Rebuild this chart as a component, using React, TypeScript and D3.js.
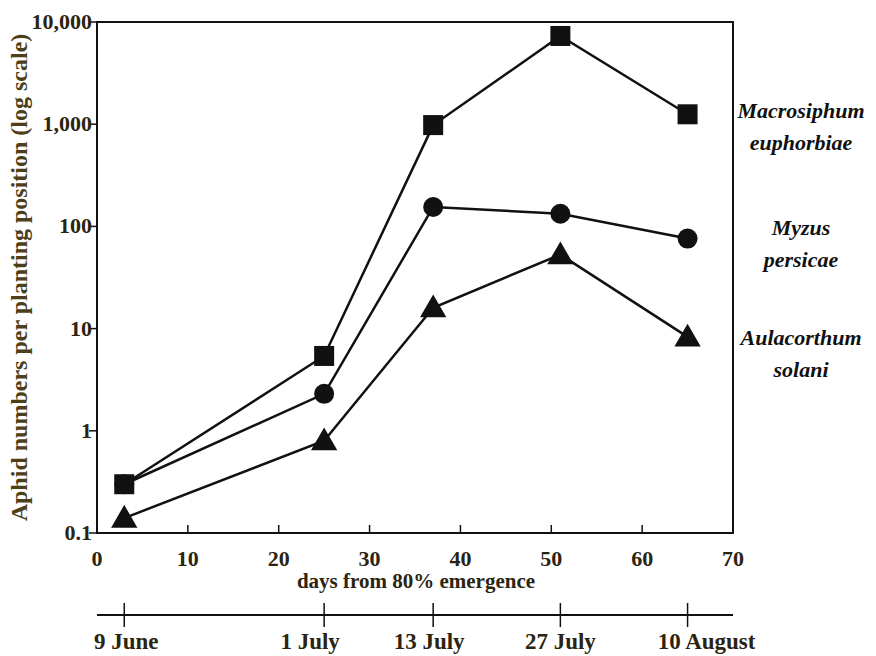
import React from "react";
import * as d3 from "d3";

// Sampling days (days from 80% emergence)
const days = [3, 25, 37, 51, 65];
const dateLabels = ["9 June", "1 July", "13 July", "27 July", "10 August"];

// Aphid counts per planting position
const macrosiphum = [0.3, 5.4, 980, 7300, 1250];
const myzus = [0.3, 2.3, 155, 133, 76];
const aulacorthum = [0.14, 0.8, 16, 53, 8.3];

const yTicks = [0.1, 1, 10, 100, 1000, 10000];
const xTicks = [0, 10, 20, 30, 40, 50, 60, 70];

const speciesLabels = [
  { lines: ["Macrosiphum", "euphorbiae"], y: 118 },
  { lines: ["Myzus", "persicae"], y: 235 },
  { lines: ["Aulacorthum", "solani"], y: 345 },
];

// horizontal nudges for the calendar labels, relative to their tick
const dateLabelShift = [2, -14, -4, 0, 19];

const W = 876;
const H = 656;
const left = 97;
const right = 733;
const top = 22;
const bottom = 533;
const timelineY = 615;
const font = "'Liberation Serif', 'Times New Roman', serif";
const ink = "#111";
const labelInk = "#2b2410";

export default function App() {
  const x = d3.scaleLinear().domain([0, 70]).range([left, right]);
  const y = d3.scaleLog().domain([0.1, 10000]).range([bottom, top]);
  const line = d3
    .line<number>()
    .x((_, i) => x(days[i]))
    .y((v) => y(v));
  const fmt = d3.format(",");

  const square = (cx: number, cy: number, k: string) => (
    <rect key={k} x={cx - 10} y={cy - 10} width={20} height={20} fill={ink} />
  );
  const circle = (cx: number, cy: number, k: string) => (
    <circle key={k} cx={cx} cy={cy} r={10} fill={ink} />
  );
  const triangle = (cx: number, cy: number, k: string) => (
    <path
      key={k}
      d={d3.symbol(d3.symbolTriangle, 300)() || ""}
      transform={`translate(${cx},${cy})`}
      fill={ink}
    />
  );

  return (
    <svg
      width={W}
      height={H}
      style={{ position: "absolute", left: 0, top: 0, background: "#fff" }}
    >
      {/* plot frame */}
      <rect
        x={left}
        y={top}
        width={right - left}
        height={bottom - top}
        fill="none"
        stroke={ink}
        strokeWidth={2}
      />

      {/* y axis ticks and labels */}
      {yTicks.map((t) => (
        <g key={t}>
          <line x1={left - 8} x2={left} y1={y(t)} y2={y(t)} stroke={ink} strokeWidth={1.5} />
          <text
            x={left - 5}
            y={y(t) + 7}
            textAnchor="end"
            fontFamily={font}
            fontWeight="bold"
            fontSize={22}
            fill={labelInk}
          >
            {t < 1 ? "0.1" : fmt(t)}
          </text>
        </g>
      ))}

      {/* x axis ticks and labels */}
      {xTicks.map((t) => (
        <g key={t}>
          <line x1={x(t)} x2={x(t)} y1={bottom} y2={bottom - 8} stroke={ink} strokeWidth={1.5} />
          <text
            x={x(t)}
            y={bottom + 33}
            textAnchor="middle"
            fontFamily={font}
            fontWeight="bold"
            fontSize={22}
            fill={labelInk}
          >
            {t}
          </text>
        </g>
      ))}
      <text
        x={416}
        y={588}
        textAnchor="middle"
        fontFamily={font}
        fontWeight="bold"
        fontSize={21}
        fill={labelInk}
      >
        days from 80% emergence
      </text>

      {/* y axis title */}
      <text
        transform={`translate(27,${(top + bottom) / 2}) rotate(-90)`}
        textAnchor="middle"
        fontFamily={font}
        fontWeight="bold"
        fontSize={24}
        fill="#4d3f1a"
      >
        Aphid numbers per planting position (log scale)
      </text>

      {/* calendar timeline */}
      <line x1={left} x2={right} y1={timelineY} y2={timelineY} stroke={ink} strokeWidth={2} />
      {days.map((d, i) => (
        <g key={d}>
          <line x1={x(d)} x2={x(d)} y1={timelineY - 12} y2={timelineY + 12} stroke={ink} strokeWidth={1.5} />
          <text
            x={x(d) + dateLabelShift[i]}
            y={649}
            textAnchor="middle"
            fontFamily={font}
            fontWeight="bold"
            fontSize={23}
            fill={labelInk}
          >
            {dateLabels[i]}
          </text>
        </g>
      ))}

      {/* series lines */}
      {[macrosiphum, myzus, aulacorthum].map((s, i) => (
        <path key={i} d={line(s) || ""} fill="none" stroke={ink} strokeWidth={2.5} />
      ))}

      {/* markers */}
      {aulacorthum.map((v, i) => triangle(x(days[i]), y(v) + 2, `t${i}`))}
      {myzus.map((v, i) => circle(x(days[i]), y(v), `c${i}`))}
      {macrosiphum.map((v, i) => square(x(days[i]), y(v), `s${i}`))}

      {/* species labels */}
      {speciesLabels.map((s) =>
        s.lines.map((l, j) => (
          <text
            key={l}
            x={801}
            y={s.y + j * 32}
            textAnchor="middle"
            fontFamily={font}
            fontWeight="bold"
            fontStyle="italic"
            fontSize={22}
            fill={ink}
          >
            {l}
          </text>
        ))
      )}
    </svg>
  );
}
